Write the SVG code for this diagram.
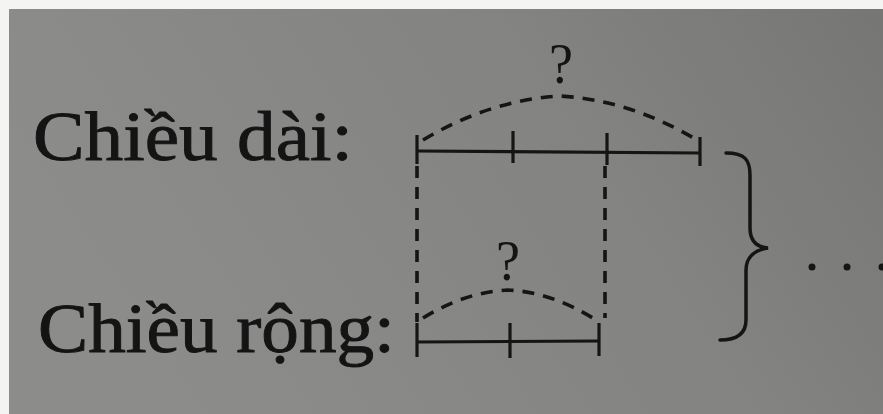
<svg xmlns="http://www.w3.org/2000/svg" width="883" height="414" viewBox="0 0 883 414">
  <defs>
    <linearGradient id="bg" x1="0" y1="0.3" x2="1" y2="0">
      <stop offset="0" stop-color="#8c8c8b"/>
      <stop offset="0.6" stop-color="#838382"/>
      <stop offset="1" stop-color="#767675"/>
    </linearGradient>
  </defs>
  <style>
    .lbl { font-family: "Liberation Serif", "DejaVu Serif", serif; font-size: 70px; fill: #141414; stroke: #141414; stroke-width: 0.9; }
    .q { font-family: "Liberation Serif", "DejaVu Serif", serif; font-size: 56px; fill: #141414; text-anchor: middle; }
    .solid { stroke: #151515; stroke-width: 3.2; fill: none; stroke-linecap: butt; }
    .dash { stroke: #151515; stroke-width: 3.6; fill: none; stroke-dasharray: 12 9; }
    .brace { stroke: #151515; stroke-width: 3.5; fill: none; stroke-linecap: round; }
  </style>
  <rect x="0" y="0" width="883" height="414" fill="#f4f4f2"/>
  <rect x="9" y="9" width="874" height="405" fill="url(#bg)"/>

  <g id="label-dai">
    <text class="lbl" x="33" y="160" textLength="320" lengthAdjust="spacingAndGlyphs">Chiều dài:</text>
  </g>
  <g id="label-rong">
    <text class="lbl" x="38" y="352" textLength="357" lengthAdjust="spacingAndGlyphs">Chiều rộng:</text>
  </g>

  <g id="bar-dai">
    <line class="solid" x1="417" y1="151" x2="700" y2="153"/>
    <line class="solid" x1="417" y1="135" x2="417" y2="164"/>
    <line class="solid" x1="513" y1="131" x2="513" y2="163"/>
    <line class="solid" x1="607" y1="133" x2="607" y2="165"/>
    <line class="solid" x1="700" y1="137" x2="700" y2="166"/>
  </g>
  <g id="bar-rong">
    <line class="solid" x1="417" y1="342" x2="599" y2="341"/>
    <line class="solid" x1="417" y1="323" x2="417" y2="357"/>
    <line class="solid" x1="510" y1="323" x2="510" y2="358"/>
    <line class="solid" x1="599" y1="323" x2="599" y2="356"/>
  </g>

  <g id="q-dai">
    <text class="q" x="561" y="83" textLength="24" lengthAdjust="spacingAndGlyphs">?</text>
  </g>
  <g id="q-rong">
    <text class="q" x="508" y="280" textLength="24" lengthAdjust="spacingAndGlyphs">?</text>
  </g>

  <g id="connectors">
    <path class="dash" d="M423,140 Q490,100 560,96 Q630,100 697,140"/>
    <path class="dash" d="M423,318 Q465,292 508,290 Q552,292 596,320"/>
    <line class="dash" x1="417" y1="166" x2="417" y2="322"/>
    <line class="dash" x1="605" y1="166" x2="605" y2="318"/>
  </g>

  <g id="brace">
    <path class="brace" d="M726,153 C745,153 750,160 750,175 L750,228 C750,240 756,247 768,248 C755,250 746,257 746,270 L746,320 C746,333 738,340 720,340"/>
  </g>

  <g id="ellipsis" fill="#151515">
    <circle cx="812" cy="267" r="3.5"/>
    <circle cx="847" cy="267" r="3.5"/>
    <circle cx="882" cy="267" r="3.5"/>
  </g>
</svg>
